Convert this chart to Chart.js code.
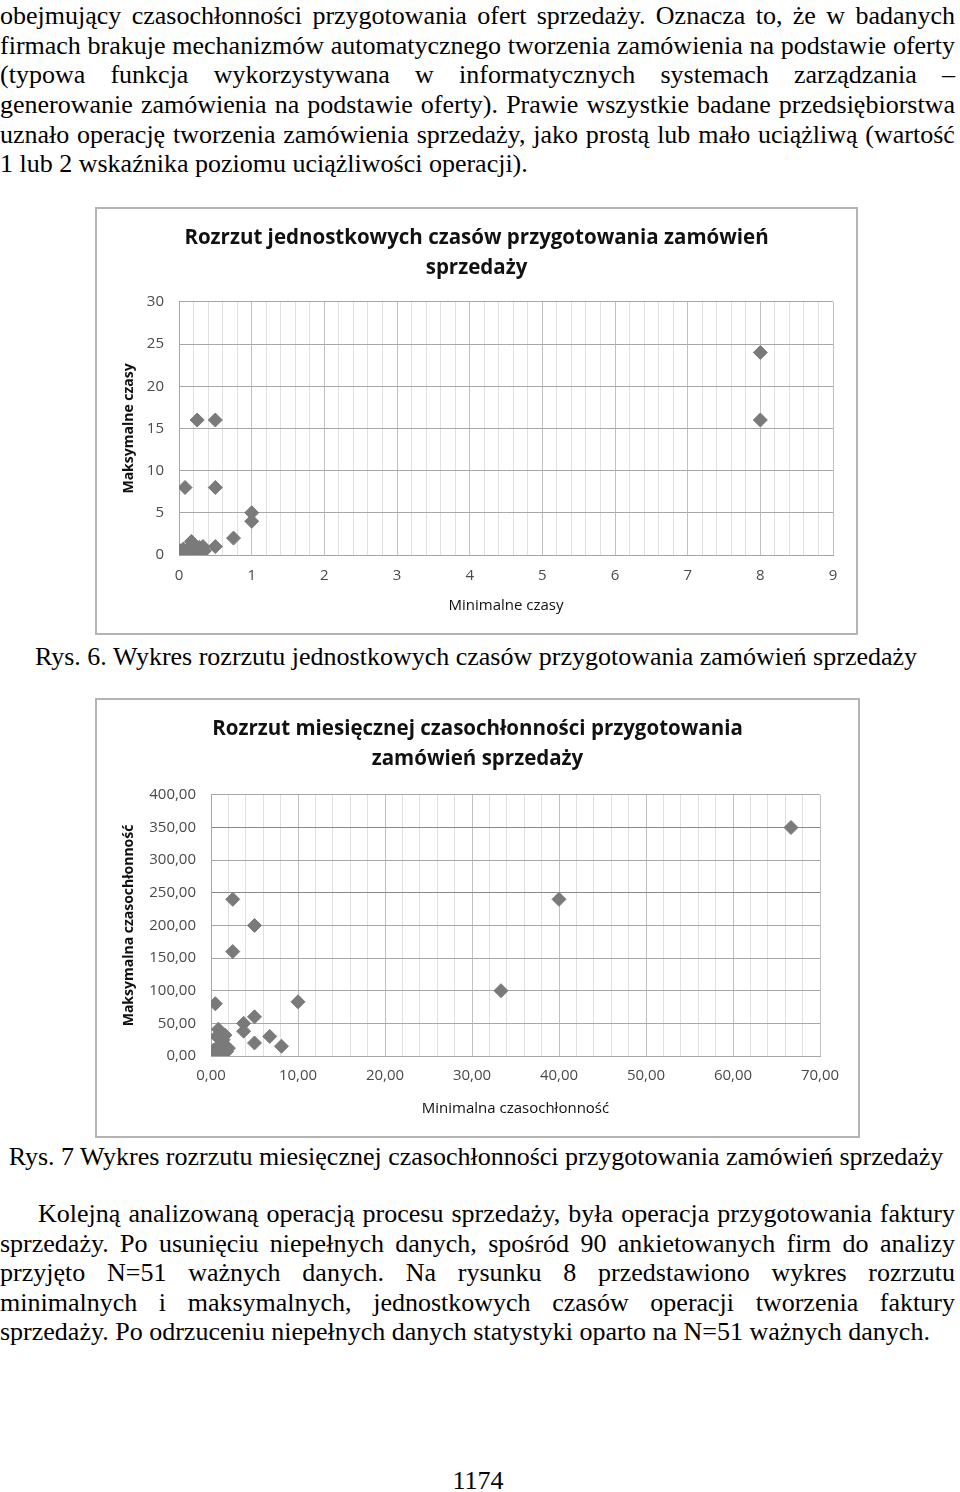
<!DOCTYPE html>
<html lang="pl">
<head>
<meta charset="utf-8">
<title>Rys. 6 i 7</title>
<script src="https://cdn.jsdelivr.net/npm/chart.js@4.4.1/dist/chart.umd.min.js"></script>
<style>
    html, body { margin: 0; padding: 0; background: #fff; }
    body {
        position: relative;
        width: 960px;
        height: 1492px;
        overflow: hidden;
        font-family: "Liberation Serif", "Times New Roman", serif;
        font-size: 26px;
        color: #000;
    }
    .ln { position: absolute; height: 29.5px; line-height: 29.5px; white-space: pre; }
    .just { display: flex; justify-content: space-between; }
    .center { left: 0; width: 952px; text-align: center; }
    .box { position: absolute; border: 2px solid #b4b4b4; background: #fff; }
    .box canvas { display: block; }
</style>
</head>
<body>

<div id="para1"></div>

<div class="box" style="left:95px; top:207px;">
    <canvas id="chartUnitTimes" width="759" height="424"></canvas>
</div>
<div class="ln center" style="top:641.5px;">Rys. 6. Wykres rozrzutu jednostkowych czasów przygotowania zamówień sprzedaży</div>

<div class="box" style="left:95px; top:698px;">
    <canvas id="chartMonthlyLoad" width="761" height="436"></canvas>
</div>
<div class="ln center" style="top:1141.5px;">Rys. 7 Wykres rozrzutu miesięcznej czasochłonności przygotowania zamówień sprzedaży</div>

<div id="para2"></div>

<div class="ln" style="top:1465.5px; left:0; width:956px; text-align:center;">1174</div>

<script>
// --- tekst strony (łamanie wierszy jak w oryginale) ---
const para1Lines = [
    'obejmujący czasochłonności przygotowania ofert sprzedaży. Oznacza to, że w badanych',
    'firmach brakuje mechanizmów automatycznego tworzenia zamówienia na podstawie oferty',
    '(typowa funkcja wykorzystywana w informatycznych systemach zarządzania –',
    'generowanie zamówienia na podstawie oferty). Prawie wszystkie badane przedsiębiorstwa',
    'uznało operację tworzenia zamówienia sprzedaży, jako prostą lub mało uciążliwą (wartość',
    '1 lub 2 wskaźnika poziomu uciążliwości operacji).',
];
const para2Lines = [
    'Kolejną analizowaną operacją procesu sprzedaży, była operacja przygotowania faktury',
    'sprzedaży. Po usunięciu niepełnych danych, spośród 90 ankietowanych firm do analizy',
    'przyjęto N=51 ważnych danych. Na rysunku 8 przedstawiono wykres rozrzutu',
    'minimalnych i maksymalnych, jednostkowych czasów operacji tworzenia faktury',
    'sprzedaży. Po odrzuceniu niepełnych danych statystyki oparto na N=51 ważnych danych.',
];

// --- Rys. 6: jednostkowe czasy (min / max) ---
const unitTitle = ['Rozrzut jednostkowych czasów przygotowania zamówień', 'sprzedaży'];
const unitMin = [8, 8, 0.25, 0.5, 0.083, 0.5, 1, 1, 0.75, 0.5, 0.33, 0.35, 0.17, 0.15, 0.22, 0.24, 0.28, 0.1, 0.06, 0.02, 0.01, 0.04, 0.15];
const unitMax = [24, 16, 16, 16, 8, 8, 5, 4, 2, 1, 1, 0.5, 1.6, 0.9, 0.7, 0.3, 0.9, 0.3, 0.7, 0.5, 0.1, 0, 0.1];
const unitXLabels = ['0', '1', '2', '3', '4', '5', '6', '7', '8', '9'];
const unitYLabels = ['0', '5', '10', '15', '20', '25', '30'];

// --- Rys. 7: miesięczna czasochłonność (min / max) ---
const loadTitle = ['Rozrzut miesięcznej czasochłonności przygotowania', 'zamówień sprzedaży'];
const loadMin = [66.67, 40, 33.33, 2.5, 2.5, 5, 10, 0.5, 3.75, 3.75, 5, 5, 6.75, 8.1, 0.85, 0.66, 1.4, 1.8, 2, 1, 0.3, 0, 0.3, 0.66, 1.2, 1.6];
const loadMax = [350, 240, 100, 240, 160, 200, 83, 80, 50, 38, 60, 20, 30, 15, 41, 30, 25, 7, 12, 17, 9, 2, 2, 0, 4, 32];
const loadXLabels = ['0,00', '10,00', '20,00', '30,00', '40,00', '50,00', '60,00', '70,00'];
const loadYLabels = ['0,00', '50,00', '100,00', '150,00', '200,00', '250,00', '300,00', '350,00', '400,00'];

function renderLines(containerId, lines, firstTop, pitch, indent) {
    const box = document.getElementById(containerId);
    lines.forEach((text, i) => {
        const div = document.createElement('div');
        const isLast = i === lines.length - 1;
        const left = i === 0 ? indent : 0;
        div.className = isLast ? 'ln' : 'ln just';
        div.style.top = (firstTop + i * pitch) + 'px';
        div.style.left = left + 'px';
        if (isLast) {
            div.textContent = text;
        } else {
            div.style.width = (955 - left) + 'px';
            text.split(' ').forEach((word) => {
                const span = document.createElement('span');
                span.textContent = word;
                div.appendChild(span);
            });
        }
        box.appendChild(div);
    });
}

renderLines('para1', para1Lines, 1.2, 29.6, 0);
renderLines('para2', para2Lines, 1199.2, 29.5, 38);

const near = (a, b) => Math.abs(a - b) < 1e-6;
const toPoints = (xs, ys) => xs.map((x, i) => ({ x: x, y: ys[i] }));

const FONT = '"Open Sans", Lato, sans-serif';
const TICK_COLOR = '#4a4a4a';

function scatterChart(canvasId, opts) {
    const ctx = document.getElementById(canvasId);
    return new Chart(ctx, {
        type: 'scatter',
        data: {
            datasets: [{
                data: opts.points,
                pointStyle: 'rectRot',
                pointRadius: 7,
                pointHoverRadius: 7,
                backgroundColor: '#7a7a7a',
                borderColor: '#7a7a7a',
                borderWidth: 1,
            }],
        },
        options: {
            responsive: false,
            devicePixelRatio: 1,
            animation: false,
            events: [],
            layout: {
                padding: 0,
            },
            plugins: {
                legend: { display: false },
                tooltip: { enabled: false },
                title: {
                    display: true,
                    text: opts.title,
                    color: '#111',
                    font: { family: FONT, size: 20.5, weight: 'bold', lineHeight: 1.46 },
                    padding: { top: 14, bottom: opts.titleGap },
                },
            },
            scales: {
                x: {
                    type: 'linear',
                    min: 0,
                    max: opts.xMax,
                    afterFit: (scale) => { scale.height = opts.xAxisHeight; },
                    border: { color: '#a6a6a6' },
                    grid: {
                        drawTicks: false,
                        color: (c) => near(c.tick.value % opts.xMajor, 0) || near(c.tick.value % opts.xMajor, opts.xMajor) ? '#c0c0c0' : '#e0e0e0',
                    },
                    ticks: {
                        stepSize: opts.xMinor,
                        maxTicksLimit: 200,
                        autoSkip: false,
                        maxRotation: 0,
                        padding: opts.xTickPad,
                        color: TICK_COLOR,
                        font: { family: FONT, size: 15 },
                        callback: (v) => {
                            const k = Math.round(v / opts.xMajor);
                            return near(v, k * opts.xMajor) ? opts.xLabels[k] : '';
                        },
                    },
                    title: {
                        display: true,
                        text: opts.xTitle,
                        color: '#111',
                        font: { family: FONT, size: 15 },
                        padding: { top: 0, bottom: 18.4 },
                    },
                },
                y: {
                    min: 0,
                    max: opts.yMax,
                    afterFit: (scale) => { scale.width = opts.yAxisWidth; },
                    border: { color: '#a6a6a6' },
                    grid: {
                        drawTicks: false,
                        color: (c) => opts.yDark.includes(c.tick.value) ? '#8a8a8a' : '#a8a8a8',
                    },
                    ticks: {
                        stepSize: opts.yStep,
                        padding: 15,
                        color: TICK_COLOR,
                        font: { family: FONT, size: 15 },
                        callback: (v) => opts.yLabels[Math.round(v / opts.yStep)],
                    },
                    title: {
                        display: true,
                        text: opts.yTitle,
                        color: '#111',
                        font: { family: FONT, size: 14, weight: 'bold' },
                        padding: { top: 24, bottom: 0 },
                    },
                },
                // empty right margin, keeps the title centred on the whole frame
                gap: {
                    position: 'right',
                    min: 0,
                    max: 1,
                    afterFit: (scale) => { scale.width = opts.padRight; },
                    grid: { display: false, drawOnChartArea: false },
                    border: { display: false },
                    ticks: { display: false },
                },
            },
        },
    });
}

scatterChart('chartUnitTimes', {
    points: toPoints(unitMin, unitMax),
    title: unitTitle,
    titleGap: 19,
    padRight: 23,
    xMax: 9,
    xMinor: 0.2,
    xMajor: 1,
    xLabels: unitXLabels,
    xTitle: 'Minimalne czasy',
    xAxisHeight: 78,
    xTickPad: 12,
    yMax: 30,
    yStep: 5,
    yLabels: unitYLabels,
    yDark: [],
    yTitle: 'Maksymalne czasy',
    yAxisWidth: 82,
});

scatterChart('chartMonthlyLoad', {
    points: toPoints(loadMin, loadMax),
    title: loadTitle,
    titleGap: 21,
    padRight: 38,
    xMax: 70,
    xMinor: 2,
    xMajor: 10,
    xLabels: loadXLabels,
    xTitle: 'Minimalna czasochłonność',
    xAxisHeight: 80,
    xTickPad: 11,
    yMax: 400,
    yStep: 50,
    yLabels: loadYLabels,
    yDark: [250, 350],
    yTitle: 'Maksymalna czasochłonność',
    yAxisWidth: 114,
});
</script>
</body>
</html>
